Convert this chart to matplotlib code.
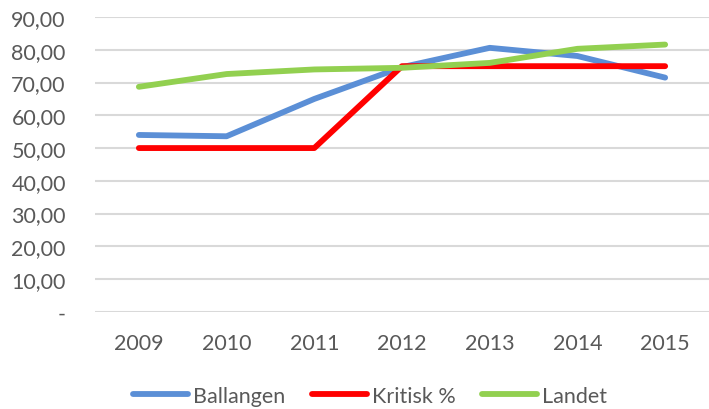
import matplotlib
matplotlib.use("Agg")
import matplotlib.pyplot as plt
from matplotlib.ticker import FuncFormatter

years = ["2009", "2010", "2011", "2012", "2013", "2014", "2015"]
ballangen = [54.0, 53.6, 65.0, 74.7, 80.6, 78.1, 71.5]
kritisk = [50.0, 50.0, 50.0, 75.0, 75.0, 75.0, 75.0]
landet = [68.7, 72.6, 74.0, 74.5, 76.0, 80.3, 81.6]

plt.rcParams['font.family'] = ['Lato', 'DejaVu Sans']

fig = plt.figure(figsize=(7.09, 4.10), dpi=100)
ax = fig.add_axes([0.134, 0.237, 0.866, 0.719])

x = list(range(len(years)))
lw = 4.2
ax.plot(x, ballangen, color="#5B8FD6", lw=lw, solid_capstyle="round", solid_joinstyle="round", label="Ballangen", zorder=3)
ax.plot(x, kritisk, color="#FF0000", lw=lw, solid_capstyle="round", solid_joinstyle="round", label="Kritisk %", zorder=4)
ax.plot(x, landet, color="#92D050", lw=lw, solid_capstyle="round", solid_joinstyle="round", label="Landet", zorder=5)

ax.set_xlim(-0.5, len(years) - 0.5)
ax.set_ylim(0, 90)
ax.set_yticks(range(0, 91, 10))
ax.yaxis.set_major_formatter(FuncFormatter(lambda v, p: "-" if v == 0 else f"{v:.2f}".replace(".", ",")))
ax.set_xticks(x)
ax.set_xticklabels(years)

ax.grid(axis="y", color="#D9D9D9", lw=1.5, zorder=0)
for s in ax.spines.values():
    s.set_visible(False)
ax.tick_params(axis="both", length=0, labelsize=15.5, colors="#595959")
ax.tick_params(axis="x", pad=15)
ax.tick_params(axis="y", pad=21)

leg = fig.legend(loc="center", bbox_to_anchor=(0.522, 0.032), ncol=3, frameon=False,
                 fontsize=15.5, handlelength=2.55, handletextpad=0.23, columnspacing=1.25,
                 borderpad=0, borderaxespad=0)
for t in leg.get_texts():
    t.set_color("#595959")

fig.savefig("out.png", dpi=100)
